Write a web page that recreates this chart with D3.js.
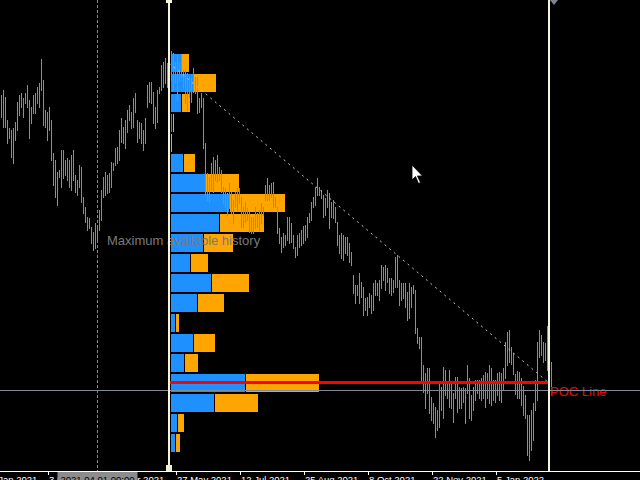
<!DOCTYPE html>
<html><head><meta charset="utf-8">
<script src="https://cdn.jsdelivr.net/npm/d3@7"></script>
<style>html,body{margin:0;padding:0;background:#000;overflow:hidden}svg{display:block}</style>
</head><body><svg id="c" width="640" height="480"></svg>
<script>
// Daily bar highs / lows (price)
const highs = [
1.2405,1.2410,1.2403,1.2380,1.2372,1.2370,1.2372,1.2378,1.2398,1.2405,
1.2407,1.2402,1.2407,1.2415,1.2400,1.2393,1.2405,1.2407,1.2413,1.2417,
1.2441,1.2420,1.2390,1.2388,1.2393,1.2380,1.2347,1.2340,1.2328,1.2330,
1.2350,1.2350,1.2340,1.2342,1.2340,1.2345,1.2350,1.2325,1.2320,1.2335,
1.2333,1.2303,1.2293,1.2283,1.2282,1.2273,1.2268,1.2277,1.2275,1.2290,
1.2310,1.2323,1.2328,1.2325,1.2327,1.2338,1.2337,1.2352,1.2353,1.2370,
1.2382,1.2373,1.2380,1.2390,1.2395,1.2388,1.2402,1.2407,1.2380,1.2378,
1.2377,1.2370,1.2382,1.2415,1.2418,1.2418,1.2408,1.2393,1.2410,1.2413,
1.2435,1.2438,1.2442,1.2437,1.2445,1.2449,1.2447,1.2438,1.2445,1.2437,
1.2446,1.2430,1.2430,1.2427,1.2423,1.2422,1.2432,1.2423,1.2423,1.2402,
1.2407,1.2402,1.2357,1.2327,1.2323,1.2337,1.2343,1.2340,1.2345,1.2333,
1.2330,1.2313,1.2312,1.2307,1.2317,1.2308,1.2300,1.2308,1.2312,1.2312,
1.2303,1.2293,1.2298,1.2292,1.2288,1.2283,1.2283,1.2293,1.2287,1.2290,
1.2297,1.2293,1.2315,1.2322,1.2315,1.2317,1.2318,1.2303,1.2293,1.2272,
1.2263,1.2267,1.2265,1.2283,1.2283,1.2277,1.2265,1.2253,1.2265,1.2267,
1.2270,1.2274,1.2275,1.2283,1.2287,1.2298,1.2303,1.2313,1.2322,1.2313,
1.2310,1.2305,1.2302,1.2310,1.2307,1.2298,1.2300,1.2293,1.2278,1.2265,
1.2267,1.2265,1.2263,1.2263,1.2257,1.2248,1.2225,1.2215,1.2215,1.2227,
1.2218,1.2213,1.2202,1.2203,1.2207,1.2205,1.2217,1.2220,1.2217,1.2220,
1.2235,1.2233,1.2235,1.2232,1.2222,1.2222,1.2220,1.2243,1.2245,1.2220,
1.2217,1.2217,1.2217,1.2208,1.2217,1.2213,1.2215,1.2210,1.2172,1.2163,
1.2163,1.2135,1.2127,1.2132,1.2132,1.2103,1.2097,1.2093,1.2090,1.2117,
1.2113,1.2133,1.2130,1.2117,1.2130,1.2117,1.2107,1.2123,1.2123,1.2113,
1.2112,1.2113,1.2112,1.2135,1.2122,1.2105,1.2113,1.2120,1.2120,1.2120,
1.2122,1.2125,1.2128,1.2127,1.2135,1.2132,1.2120,1.2120,1.2127,1.2128,
1.2127,1.2132,1.2158,1.2168,1.2170,1.2153,1.2147,1.2126,1.2129,1.2128,
1.2122,1.2114,1.2105,1.2085,1.2085,1.2090,1.2097,1.2120,1.2158,1.2170,
1.2165,1.2158,1.2157,1.2174,1.2152,1.2138];
const lows = [
1.2383,1.2373,1.2373,1.2357,1.2362,1.2343,1.2337,1.2360,1.2370,1.2385,
1.2393,1.2383,1.2397,1.2393,1.2362,1.2377,1.2387,1.2387,1.2397,1.2393,
1.2410,1.2375,1.2373,1.2360,1.2370,1.2340,1.2315,1.2303,1.2295,1.2323,
1.2313,1.2322,1.2325,1.2320,1.2313,1.2310,1.2320,1.2308,1.2305,1.2313,
1.2298,1.2287,1.2278,1.2270,1.2272,1.2257,1.2250,1.2252,1.2260,1.2270,
1.2280,1.2303,1.2305,1.2307,1.2308,1.2313,1.2330,1.2335,1.2337,1.2340,
1.2358,1.2357,1.2352,1.2368,1.2380,1.2372,1.2373,1.2388,1.2358,1.2362,
1.2357,1.2350,1.2357,1.2393,1.2398,1.2397,1.2377,1.2372,1.2378,1.2407,
1.2410,1.2413,1.2417,1.2413,1.2420,1.2420,1.2410,1.2417,1.2400,1.2420,
1.2423,1.2412,1.2397,1.2390,1.2403,1.2398,1.2408,1.2407,1.2387,1.2388,
1.2393,1.2352,1.2305,1.2300,1.2298,1.2310,1.2308,1.2320,1.2318,1.2320,
1.2308,1.2297,1.2293,1.2285,1.2292,1.2287,1.2277,1.2293,1.2290,1.2297,
1.2273,1.2273,1.2278,1.2280,1.2268,1.2267,1.2267,1.2272,1.2273,1.2270,
1.2277,1.2285,1.2300,1.2300,1.2300,1.2303,1.2293,1.2293,1.2267,1.2257,
1.2248,1.2253,1.2255,1.2260,1.2257,1.2258,1.2252,1.2243,1.2245,1.2253,
1.2255,1.2257,1.2260,1.2263,1.2278,1.2280,1.2293,1.2295,1.2305,1.2305,
1.2302,1.2283,1.2285,1.2293,1.2272,1.2283,1.2282,1.2278,1.2255,1.2247,
1.2242,1.2240,1.2247,1.2245,1.2238,1.2235,1.2207,1.2197,1.2205,1.2197,
1.2203,1.2185,1.2190,1.2185,1.2193,1.2187,1.2190,1.2205,1.2205,1.2200,
1.2212,1.2220,1.2210,1.2218,1.2207,1.2205,1.2208,1.2213,1.2213,1.2195,
1.2200,1.2202,1.2193,1.2180,1.2182,1.2193,1.2207,1.2167,1.2157,1.2152,
1.2120,1.2108,1.2092,1.2107,1.2087,1.2080,1.2077,1.2063,1.2070,1.2073,
1.2090,1.2082,1.2105,1.2102,1.2093,1.2092,1.2078,1.2102,1.2088,1.2092,
1.2092,1.2098,1.2077,1.2107,1.2082,1.2080,1.2090,1.2100,1.2107,1.2102,
1.2100,1.2102,1.2093,1.2102,1.2097,1.2095,1.2100,1.2098,1.2105,1.2100,
1.2098,1.2110,1.2122,1.2135,1.2138,1.2136,1.2126,1.2106,1.2102,1.2102,
1.2095,1.2085,1.2082,1.2045,1.2040,1.2050,1.2060,1.2090,1.2100,1.2143,
1.2145,1.2138,1.2140,1.2130,1.2117,1.2105];

// Time axis
const tickIndex  = [-9, 23, 55, 87, 119, 151, 183, 215, 247];
const tickLabels = ["18 Jan 2021","3 Mar 2021","14 Apr 2021","27 May 2021","12 Jul 2021","25 Aug 2021","8 Oct 2021","22 Nov 2021","5 Jan 2022"];

// Volume profile (price bins, buy / sell volume)
const binTops = [1.2447,1.2427,1.2407,1.2387,1.2367,1.2347,1.2327,1.2307,1.2287,1.2267,
                 1.2247,1.2227,1.2207,1.2187,1.2167,1.2147,1.2127,1.2107,1.2087,1.2067];
const binSize = 0.0020;
const buyVol  = [100,220,100,10,0,120,340,580,480,320,190,400,260,40,220,130,740,430,60,40];
const sellVol = [70,220,80,10,10,110,330,550,440,290,170,370,260,30,210,130,730,430,60,40];

// Range / markers
const rangeStart = 84, rangeEnd = 274;
const pocPrice = 1.2117;
const trendFrom = 1.2437, trendTo = 1.2117;
const crossIndex = 48, crossPrice = 1.2110, crossLabel = "2021.04.01 00:00";
const historyIndex = 53, historyText = "Maximum available history";

const W = 640, H = 480, axisY = 471;
const FONT = "Liberation Sans, Arial, sans-serif";
const svg = d3.select("#c");
svg.append("rect").attr("width", W).attr("height", H).attr("fill", "#000");

const x = d3.scaleLinear().domain([0, 275]).range([1.5, 551.5]);
const y = d3.scaleLinear().domain([1.25, 1.2031]).range([0, 469]);
const vol = d3.scaleLinear().domain([0, 1000]).range([0, 100]);

// grid dashed vertical (crosshair time)
svg.append("line").attr("x1", x(crossIndex)).attr("x2", x(crossIndex))
  .attr("y1", 0).attr("y2", axisY).attr("stroke", "#8a8a8a")
  .attr("stroke-dasharray", "3,2").attr("shape-rendering", "crispEdges");

// volume profile
const px0 = x(rangeStart) + 1.5;
const prof = svg.append("g").attr("shape-rendering", "crispEdges");
binTops.forEach((t, i) => {
  const yt = y(t) + 1, hh = y(t - binSize) - y(t) - 2;
  const wb = vol(buyVol[i]), ws = vol(sellVol[i]);
  if (wb > 0) prof.append("rect").attr("x", px0).attr("y", yt).attr("width", wb).attr("height", hh).attr("fill", "#1e90ff");
  if (ws > 0) prof.append("rect").attr("x", px0 + wb + (wb > 0 ? 1 : 0)).attr("y", yt).attr("width", ws).attr("height", hh).attr("fill", "#ffa500");
});

// price bars
svg.append("g").attr("shape-rendering", "crispEdges")
  .selectAll("line").data(highs).join("line")
  .attr("x1", (d, i) => x(i)).attr("x2", (d, i) => x(i))
  .attr("y1", d => y(d)).attr("y2", (d, i) => y(lows[i]) + 1)
  .attr("stroke", "#32cd32").attr("stroke-width", 1);

// dotted trend line
svg.append("line")
  .attr("x1", x(rangeStart) - 0.5).attr("y1", y(trendFrom))
  .attr("x2", x(rangeEnd) - 0.5).attr("y2", y(trendTo))
  .attr("stroke", "#c8c8c8").attr("stroke-width", 1).attr("stroke-dasharray", "2,4");

// history text
svg.append("text").attr("x", x(historyIndex) - 0.5).attr("y", 245)
  .attr("font-family", FONT).attr("font-size", 13)
  .attr("fill", "#7a7a7a").text(historyText);

// POC line
svg.append("rect").attr("x", x(rangeStart) - 1.5).attr("y", y(pocPrice) - 2)
  .attr("width", x(rangeEnd) - x(rangeStart) + 1).attr("height", 3).attr("fill", "#ff0000");
svg.append("text").attr("x", x(rangeEnd) + 0.5).attr("y", 396)
  .attr("font-family", FONT).attr("font-size", 13)
  .attr("fill", "#ff0000").text("POC Line");

// crosshair horizontal
svg.append("line").attr("x1", 0).attr("x2", W).attr("y1", y(crossPrice) + 0.5).attr("y2", y(crossPrice) + 0.5)
  .attr("stroke", "#7f8a9a").attr("stroke-width", 1);

// range vertical lines
[rangeStart, rangeEnd].forEach(r => {
  svg.append("line").attr("x1", x(r) - 0.5).attr("x2", x(r) - 0.5).attr("y1", 0).attr("y2", axisY)
    .attr("stroke", "#f5f5dc").attr("stroke-width", 2);
});
svg.append("rect").attr("x", x(rangeStart) - 3.5).attr("y", 0).attr("width", 6).attr("height", 3).attr("fill", "#f5f5dc");
svg.append("rect").attr("x", x(rangeStart) - 3.5).attr("y", axisY - 6).attr("width", 6).attr("height", 6).attr("fill", "#eeeed8");
const tx = x(rangeEnd) + 0.5;
svg.append("path").attr("d", `M${tx},0 L${tx + 8},0 L${tx + 4},5 Z`).attr("fill", "#7c8594");

// mouse cursor
const cx = 412, cy = 165;
svg.append("path")
  .attr("d", `M${cx},${cy} l0,15 l3.5,-3.5 l3,7 l2,-1 l-3,-6.5 l5,0 Z`)
  .attr("fill", "#fff").attr("stroke", "#000").attr("stroke-width", 0.8);

// time axis
svg.append("line").attr("x1", 0).attr("x2", W).attr("y1", axisY + 0.5).attr("y2", axisY + 0.5)
  .attr("stroke", "#fff").attr("stroke-width", 1);
const ax = d3.axisBottom(x).tickValues(tickIndex).tickFormat((d, i) => tickLabels[i]).tickSize(4).tickPadding(2);
const g = svg.append("g").attr("transform", `translate(0,${axisY})`).call(ax);
g.select(".domain").remove();
g.selectAll(".tick line").attr("stroke", "#fff").attr("shape-rendering", "crispEdges");
g.selectAll(".tick text").attr("fill", "#fff").attr("text-anchor", "start").attr("dx", 1).attr("y", 12).attr("dy", 0)
  .attr("font-family", FONT).attr("font-size", 9.5);

// crosshair time label box
const bx = x(crossIndex);
svg.append("rect").attr("x", bx - 40).attr("y", axisY + 1).attr("width", 80).attr("height", 12).attr("fill", "#8c8c8c");
svg.append("text").attr("x", bx).attr("y", axisY + 12).attr("text-anchor", "middle")
  .attr("font-family", FONT).attr("font-size", 9.5)
  .attr("fill", "#000").text(crossLabel);
</script></body></html>
